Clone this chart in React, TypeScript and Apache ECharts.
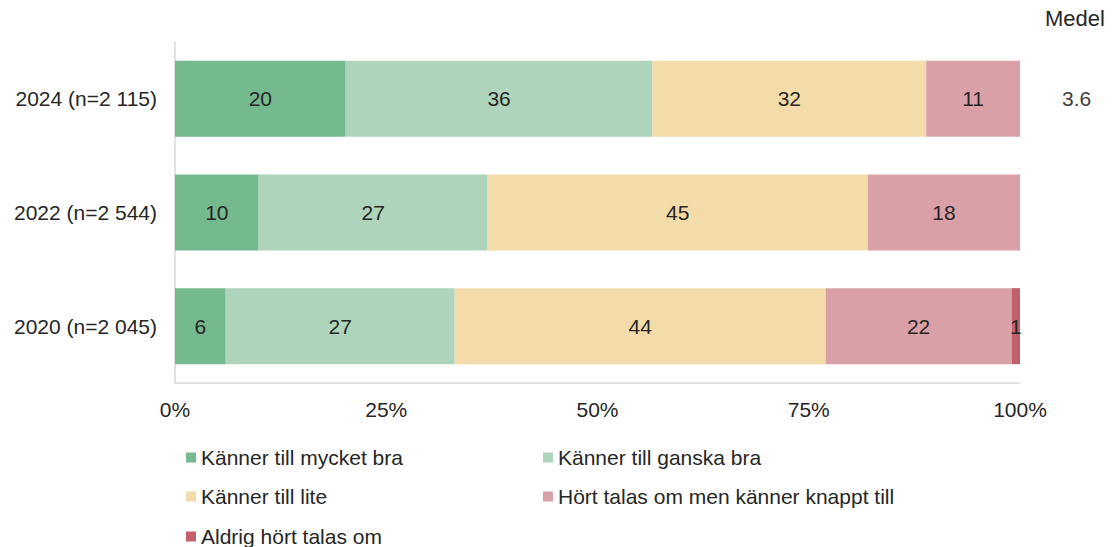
import React, { useEffect, useRef } from "react";
import * as echarts from "echarts";

const categories = ["2024 (n=2 115)", "2022 (n=2 544)", "2020 (n=2 045)"];
const medel = ["3.6", "", ""];
const seriesNames = [
  "Känner till mycket bra",
  "Känner till ganska bra",
  "Känner till lite",
  "Hört talas om men känner knappt till",
  "Aldrig hört talas om",
];
const mycketBra = [20.2, 9.9, 6.0];
const ganskaBra = [36.3, 27.1, 27.1];
const lite = [32.4, 45.0, 43.9];
const knappt = [11.1, 18.0, 22.0];
const aldrig = [0, 0, 1.0];
const xTicks = [0, 25, 50, 75, 100];

const colors = ["#75b98f", "#aed5bc", "#f3dcaa", "#daa0a7", "#c0626b"];
const FONT = "Liberation Sans, Arial, sans-serif";
const TEXT = "#262626";

// legend placement: [left, top] for each series
const legendPos: [number, number][] = [
  [186, 447],
  [543, 447],
  [186, 486],
  [543, 486],
  [186, 526],
];

export default function App() {
  const ref = useRef<HTMLDivElement>(null);
  useEffect(() => {
    if (!ref.current) return;
    const chart = echarts.init(ref.current, null, { renderer: "svg" });
    const values = [mycketBra, ganskaBra, lite, knappt, aldrig];
    chart.setOption({
      animation: false,
      textStyle: { fontFamily: FONT },
      grid: { left: 175, right: 93, top: 42, bottom: 164, containLabel: false },
      xAxis: {
        type: "value",
        min: xTicks[0],
        max: xTicks[xTicks.length - 1],
        interval: 25,
        splitLine: { show: false },
        axisTick: { show: false },
        axisLine: { show: true, lineStyle: { color: "#d9d9d9", width: 1.5 } },
        axisLabel: {
          formatter: "{value}%",
          fontSize: 21,
          color: TEXT,
          margin: 16,
          fontFamily: FONT,
        },
      },
      yAxis: [
        {
          type: "category",
          data: categories,
          inverse: true,
          axisTick: { show: false },
          axisLine: { show: true, lineStyle: { color: "#d9d9d9", width: 1.5 } },
          axisLabel: { fontSize: 21, color: TEXT, margin: 18, fontFamily: FONT },
        },
        {
          type: "category",
          data: medel,
          inverse: true,
          position: "right",
          axisTick: { show: false },
          axisLine: { show: false },
          axisLabel: { fontSize: 21, color: "#404040", margin: 42, fontFamily: FONT },
        },
      ],
      legend: seriesNames.map((name, i) => ({
        left: legendPos[i][0],
        top: legendPos[i][1],
        padding: 0,
        itemWidth: 10,
        itemHeight: 10,
        icon: "rect",
        selectedMode: false,
        data: [name],
        textStyle: { fontSize: 21, color: TEXT, fontFamily: FONT },
      })),
      graphic: [
        {
          type: "text",
          left: 1045,
          top: 7,
          style: { text: "Medel", fontSize: 22, fill: TEXT, fontFamily: FONT },
        },
      ],
      series: seriesNames.map((name, i) => ({
        name,
        type: "bar",
        stack: "total",
        barWidth: 76,
        data: values[i],
        itemStyle: { color: colors[i] },
        label: {
          show: true,
          position: "inside",
          fontSize: 21,
          color: TEXT,
          fontFamily: FONT,
          formatter: (p: any) => (p.value > 0 ? String(Math.round(p.value)) : ""),
        },
      })),
    });
    return () => chart.dispose();
  }, []);
  return (
    <div
      ref={ref}
      style={{ position: "absolute", left: 0, top: 0, width: 1113, height: 547 }}
    />
  );
}
